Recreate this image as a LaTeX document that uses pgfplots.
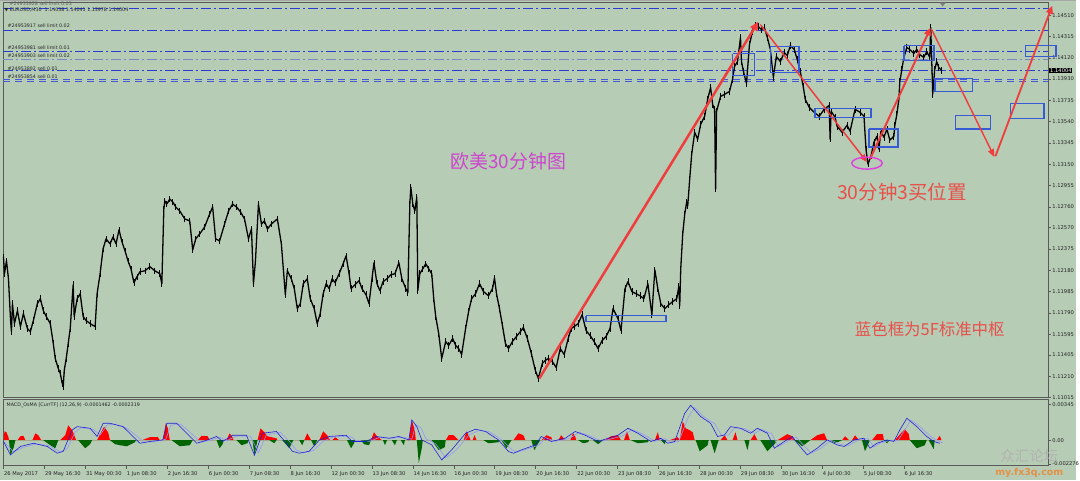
\documentclass[border=0pt]{standalone}
\usepackage{pgfplots}
\pgfplotsset{compat=1.18}
\usepackage{fontspec}
\setmainfont{DejaVu Sans}
\newfontfamily\cjk{Noto Sans CJK SC}
\usetikzlibrary{arrows.meta}
\definecolor{bg}{RGB}{182,204,181}
\definecolor{framec}{RGB}{90,90,90}
\definecolor{ordblue}{RGB}{40,60,210}
\definecolor{ordgray}{RGB}{125,135,195}
\definecolor{ordblue2}{RGB}{70,90,215}
\definecolor{boxblue}{RGB}{55,90,215}
\definecolor{arrred}{RGB}{240,60,60}
\definecolor{txtred}{RGB}{232,80,75}
\definecolor{txtmag}{RGB}{205,70,205}
\definecolor{elmag}{RGB}{225,60,225}
\definecolor{histred}{RGB}{255,0,0}
\definecolor{histgreen}{RGB}{0,100,0}
\definecolor{macdblue}{RGB}{30,30,220}
\definecolor{sigblue}{RGB}{150,150,250}
\definecolor{lbl}{RGB}{35,35,35}
\newcommand{\tickfont}{\fontsize{5.2}{6}\selectfont}
\newcommand{\ordfont}{\fontsize{4.8}{5.5}\selectfont}

\pgfplotstableread{
x y
3 1.12303
4 1.12148
6 1.12266
8 1.12102
10 1.11738
11 1.11619
12 1.11874
14 1.11692
17 1.11811
20 1.11665
23 1.11783
27 1.11647
30 1.11619
33 1.11720
37 1.11874
40 1.11920
43 1.11811
46 1.11756
50 1.11692
53 1.11510
55 1.11373
58 1.11282
60 1.11237
62 1.11146
63 1.11118
64 1.11264
66 1.11373
68 1.11510
70 1.11647
72 1.11920
73 1.12048
74 1.11756
77 1.11920
80 1.11966
83 1.11756
86 1.11720
90 1.11692
95 1.11665
97 1.11966
100 1.12148
103 1.12376
106 1.12467
110 1.12421
113 1.12485
116 1.12421
119 1.12549
122 1.12439
125 1.12357
128 1.12266
131 1.12193
134 1.12066
137 1.12120
140 1.12166
145 1.12175
150 1.12212
155 1.12175
160 1.12148
162 1.12057
164 1.12740
165 1.12813
167 1.12785
170 1.12831
173 1.12804
176 1.12758
180 1.12722
185 1.12649
190 1.12631
193 1.12366
196 1.12467
200 1.12512
205 1.12576
210 1.12694
213 1.12758
216 1.12467
220 1.12448
225 1.12603
229 1.12722
233 1.12785
237 1.12758
241 1.12713
245 1.12649
249 1.12467
252 1.12558
254 1.12057
256 1.12266
259 1.12785
262 1.12603
265 1.12631
268 1.12558
272 1.12603
278 1.12649
282 1.12421
286 1.11956
288 1.12175
292 1.12102
295 1.12011
298 1.11829
301 1.11874
304 1.12057
308 1.12102
311 1.11920
315 1.11829
318 1.11692
321 1.11783
324 1.11966
327 1.12057
330 1.12011
333 1.12102
336 1.12066
340 1.12148
344 1.12239
347 1.12312
350 1.12148
352 1.12011
356 1.12048
360 1.12084
363 1.12011
367 1.11956
370 1.11874
373 1.12102
375 1.12248
378 1.12057
381 1.11993
384 1.12075
388 1.12102
392 1.12139
396 1.12148
400 1.12248
403 1.12102
407 1.12011
409 1.11975
411 1.12785
412 1.12940
414 1.12785
416 1.12722
418 1.12849
419 1.11993
421 1.12148
424 1.12193
427 1.12239
430 1.12193
433 1.12148
435 1.11920
437 1.11756
440 1.11601
443 1.11373
447 1.11528
450 1.11492
454 1.11556
457 1.11492
460 1.11464
463 1.11410
467 1.11647
470 1.11802
473 1.11920
477 1.11966
481 1.12057
485 1.11984
490 1.11947
494 1.12011
496 1.12111
498 1.11966
501 1.11829
504 1.11674
507 1.11510
510 1.11464
514 1.11528
518 1.11574
522 1.11619
525 1.11656
529 1.11556
533 1.11419
537 1.11264
540 1.11191
544 1.11328
547 1.11355
550 1.11373
554 1.11346
558 1.11291
562 1.11464
566 1.11410
570 1.11556
573 1.11647
576 1.11665
580 1.11692
584 1.11774
588 1.11628
592 1.11583
596 1.11528
600 1.11464
604 1.11537
608 1.11574
612 1.11647
615 1.11829
620 1.11738
623 1.11628
627 1.12011
630 1.12075
634 1.11984
638 1.11966
642 1.11947
646 1.11920
650 1.12057
654 1.11774
657 1.12184
660 1.12011
663 1.11874
667 1.11829
671 1.11865
675 1.11893
679 1.11920
681 1.12029
682 1.11856
683 1.12193
685 1.12512
687 1.12694
689 1.12804
690 1.12767
692 1.13013
694 1.13241
697 1.13441
700 1.13378
703 1.13514
707 1.13587
710 1.13742
713 1.13851
715 1.13696
717 1.13651
718 1.12922
719 1.13633
723 1.13769
727 1.13788
732 1.13815
735 1.13924
737 1.14043
740 1.14088
743 1.14307
744 1.14088
746 1.13997
749 1.13888
752 1.14243
755 1.14362
758 1.14416
761 1.14407
764 1.14380
767 1.14398
770 1.14307
773 1.14198
776 1.13942
779 1.14134
783 1.14088
787 1.14170
790 1.14143
793 1.14234
797 1.14198
800 1.14106
803 1.13997
806 1.13860
808 1.13742
812 1.13669
817 1.13624
822 1.13587
827 1.13651
832 1.13687
833 1.13378
834 1.13633
838 1.13578
840 1.13496
845 1.13441
850 1.13505
853 1.13450
858 1.13651
863 1.13624
867 1.13587
869 1.13287
871 1.13150
874 1.13223
877 1.13350
880 1.13405
882 1.13287
884 1.13450
887 1.13396
890 1.13469
893 1.13369
897 1.13405
898 1.13505
900 1.13605
902 1.13742
903 1.13906
905 1.14015
907 1.14125
910 1.14216
913 1.14198
917 1.14161
920 1.14198
923 1.14152
927 1.14125
930 1.14179
933 1.14125
934 1.14398
935 1.14106
936 1.13788
938 1.14015
940 1.14088
942 1.14034
945 1.14006
}\price

\begin{document}
\begin{tikzpicture}[x=1pt,y=1pt]
\fill[bg] (0,0) rectangle (1080,482);
\draw[gray!70, line width=1pt] (0,481.5) -- (1080,481.5);
% ---------------- main price panel ----------------
\begin{axis}[
  at={(3pt,82.7pt)}, anchor=south west,
  width=1049pt, height=396.6pt, scale only axis,
  xmin=3, xmax=1052, ymin=1.11015, ymax=1.14626,
  axis line style={framec, line width=0.8pt},
  clip=false,
  xtick=\empty,
  ytick={1.14510,1.14315,1.14120,1.13930,1.13735,1.13540,1.13345,1.13150,1.12955,1.12760,1.12570,1.12375,1.12180,1.11985,1.11790,1.11595,1.11405,1.11210,1.11015},
  yticklabels={1.14510,1.14315,1.14120,1.13930,1.13735,1.13540,1.13345,1.13150,1.12955,1.12760,1.12570,1.12375,1.12180,1.11985,1.11790,1.11595,1.11405,1.11210,1.11015},
  ytick pos=right, yticklabel pos=right,
  tick align=outside, major tick length=3pt,
  tick style={framec, line width=0.5pt},
  yticklabel style={font=\tickfont, text=lbl, inner sep=1pt},
]
% order lines
\addplot[ordblue, line width=0.8pt, dash pattern=on 10pt off 3pt on 2pt off 3pt] coordinates {(3,1.14571) (1052,1.14571)};
\addplot[ordblue, line width=0.8pt, dash pattern=on 10pt off 3pt on 2pt off 3pt] coordinates {(3,1.14373) (1052,1.14373)};
\addplot[ordblue, line width=0.8pt, dash pattern=on 10pt off 3pt on 2pt off 3pt] coordinates {(3,1.14177) (1052,1.14177)};
\addplot[ordgray, line width=0.9pt, dash pattern=on 10pt off 3pt on 2pt off 3pt] coordinates {(3,1.14107) (1052,1.14107)};
\addplot[ordblue, line width=0.8pt, dash pattern=on 10pt off 3pt on 2pt off 3pt] coordinates {(3,1.14004) (1052,1.14004)};
\addplot[ordblue2, line width=0.8pt, dash pattern=on 7pt off 5pt] coordinates {(3,1.13924) (1052,1.13924)};
\addplot[ordblue2, line width=0.8pt, dash pattern=on 7pt off 5pt] coordinates {(3,1.13906) (1052,1.13906)};
% price (close path with high-low range bars)
\addplot[black, line width=1.3pt, line join=round,
  error bars/.cd, y dir=both, y fixed=0.00030, error mark=none,
  error bar style={black, line width=0.8pt}] table[x=x,y=y] {\price};
% blue boxes (5F centers)
\addplot[boxblue, line width=1.6pt] coordinates {(588,1.11765)(668,1.11765)(668,1.11710)(588,1.11710)(588,1.11765)};
\addplot[boxblue, line width=1.6pt] coordinates {(735,1.14161)(757,1.14161)(757,1.13961)(735,1.13961)(735,1.14161)};
\addplot[boxblue, line width=1.6pt] coordinates {(773,1.14225)(802,1.14225)(802,1.13988)(773,1.13988)(773,1.14225)};
\addplot[boxblue, line width=1.6pt] coordinates {(818,1.13660)(874,1.13660)(874,1.13578)(818,1.13578)(818,1.13660)};
\addplot[boxblue, line width=1.6pt] coordinates {(872,1.13469)(901,1.13469)(901,1.13305)(872,1.13305)(872,1.13469)};
\addplot[boxblue, line width=1.6pt] coordinates {(907,1.14234)(937,1.14234)(937,1.14097)(907,1.14097)(907,1.14234)};
\addplot[boxblue, line width=1.6pt] coordinates {(938,1.13933)(976,1.13933)(976,1.13815)(938,1.13815)(938,1.13933)};
\addplot[boxblue, line width=1.6pt] coordinates {(959,1.13596)(994,1.13596)(994,1.13469)(959,1.13469)(959,1.13596)};
\addplot[boxblue, line width=1.6pt] coordinates {(1014,1.13706)(1048,1.13706)(1048,1.13569)(1014,1.13569)(1014,1.13706)};
\addplot[boxblue, line width=1.6pt] coordinates {(1029,1.14234)(1060,1.14234)(1060,1.14134)(1029,1.14134)(1029,1.14234)};
% red trend arrows
\addplot[arrred, line width=2.5pt, -{Triangle[length=9pt,width=8pt]}] coordinates {(541,1.11191)(761,1.14453)};
\addplot[arrred, line width=1.5pt, -{Triangle[length=8pt,width=6pt]}] coordinates {(763,1.14425)(870,1.13168)};
\addplot[arrred, line width=2pt, -{Triangle[length=8pt,width=7pt]}] coordinates {(873,1.13195)(934,1.14398)};
\addplot[arrred, line width=1.4pt, -{Triangle[length=8pt,width=6pt]}] coordinates {(935,1.14380)(998,1.13214)};
\addplot[arrred, line width=1.8pt, -{Triangle[length=8pt,width=7pt]}] coordinates {(999,1.13223)(1056,1.14598)};
% ellipse
\draw[elmag, line width=1.4pt] (axis cs:870,1.13159) ellipse [x radius=15.3pt, y radius=6pt];
% texts
\node[font=\cjk\fontsize{19}{20}\selectfont, text=txtmag] at (axis cs:510,1.13177) {欧美30分钟图};
\node[font=\cjk\fontsize{19.5}{20}\selectfont, text=txtred] at (axis cs:905,1.12890) {30分钟3买位置};
\node[font=\cjk\fontsize{16.5}{18}\selectfont, text=txtred] at (axis cs:933,1.11642) {蓝色框为5F标准中枢};
% order labels
\node[font=\ordfont, text=lbl!75, anchor=west, inner sep=0pt] at (axis cs:9,1.14617) {\#24953928 sell limit 0.03};
\node[font=\ordfont, text=lbl, anchor=west, inner sep=0pt] at (axis cs:4,1.14558) {▼ EURUSD,M30\ \ 1.14038 1.14041 1.13978 1.14004};
\node[font=\ordfont, text=lbl, anchor=west, inner sep=0pt] at (axis cs:7,1.14416) {\#24953917 sell limit 0.02};
\node[font=\ordfont, text=lbl, anchor=west, inner sep=0pt] at (axis cs:7,1.14216) {\#24953981 sell limit 0.01};
\node[font=\ordfont, text=lbl, anchor=west, inner sep=0pt] at (axis cs:7,1.14143) {\#24953903 sell limit 0.02};
\node[font=\ordfont, text=lbl, anchor=west, inner sep=0pt] at (axis cs:7,1.14024) {\#24953892 sell 0.01};
\node[font=\ordfont, text=lbl, anchor=west, inner sep=0pt] at (axis cs:7,1.13951) {\#24953854 sell 0.01};
% current price tag
\node[fill=black, text=white, font=\tickfont, anchor=west, inner sep=0.8pt] at (axis cs:1053,1.14004) {1.14004};
% shift marker
\fill[gray] (axis cs:943,1.14626) -- (axis cs:949,1.14626) -- (axis cs:946,1.14590) -- cycle;
\end{axis}
% ---------------- MACD panel ----------------
\begin{axis}[
  at={(3pt,14.5pt)}, anchor=south west,
  width=1049pt, height=66.5pt, scale only axis,
  xmin=3, xmax=1052, ymin=-24.4, ymax=39.3,
  axis line style={framec, line width=0.8pt},
  clip=false,
  xtick={3,44.1,85.2,126.3,167.4,208.5,249.6,290.7,331.8,372.9,414,455.1,496.2,537.3,578.4,619.5,660.6,701.7,742.8,783.9,825,866.1,907.2},
  xticklabels={26 May 2017,29 May 16:30,31 May 00:30,1 Jun 08:30,2 Jun 16:30,6 Jun 00:30,7 Jun 08:30,8 Jun 16:30,12 Jun 00:30,13 Jun 08:30,14 Jun 16:30,16 Jun 00:30,19 Jun 08:30,20 Jun 16:30,22 Jun 00:30,23 Jun 08:30,26 Jun 16:30,28 Jun 00:30,29 Jun 08:30,30 Jun 16:30,4 Jul 00:30,5 Jul 08:30,6 Jul 16:30},
  xtick pos=bottom,
  xticklabel style={font=\tickfont, text=lbl, anchor=north west, inner sep=0pt, xshift=0.5pt, yshift=-2.5pt},
  ytick={34.5,0,-22.76},
  yticklabels={0.00345,0.00,-0.002276},
  ytick pos=right, yticklabel pos=right,
  yticklabel style={font=\tickfont, text=lbl, inner sep=1pt},
  tick align=outside, major tick length=3pt,
  tick style={framec, line width=0.5pt},
]
\addplot[fill=histred, draw=none] coordinates {
(3,0)(4,8.6)(6,7.7)(8,2.9)(8.5,0)
(17,0)(20,3.8)(23,4.3)(25,0)
(32,0)(35,6.7)(38,4.8)(41,0)
(60,0)(65,4.8)(68,14.4)(72,9.6)(76,0)
(97,0)(101,7.7)(104,13)(108,7.7)(110,0)
(142,0)(150,2.9)(158,2.9)(160,0)
(163,0)(166,16.3)(168,11.5)(170,0)
(198,0)(202,4.3)(208,3.8)(210,0)
(227,0)(230,6.7)(233,2.9)(234,0)
(258,0)(261,11.5)(265,7.7)(268,3.8)(277,1.9)(278,0)
(305,0)(308,6.7)(312,0)
(320,0)(324,8.6)(328,4.8)(331,0)
(333,0)(336,2.9)(340,0)
(372,0)(375,7.7)(378,3.8)(383,0)
(410,0)(413,19.2)(416,9.6)(417,0)
(447,0)(450,4.8)(455,4.8)(460,0)
(465,0)(468,8.6)(470,4.8)(472,0)
(474,0)(476,4.8)(478,0)
(515,0)(520,6.7)(525,4.8)(527,0)
(543,0)(548,4.8)(553,2.9)(554,0)
(560,0)(563,4.8)(567,0)
(572,0)(575,6.7)(577,3.8)(578,0)
(607,0)(613,3.8)(620,4.8)(623,0)
(626,0)(629,8.6)(632,0)
(657,0)(660,7.7)(662,0)
(672,0)(680,2.9)(682,0)
(685,18.2)(688,11.5)(692,9.6)(695,7.7)(697,0)
(723,0)(727,4.8)(730,0)
(735,0)(738,7.7)(740,0)
(753,0)(757,5.8)(760,0)
(780,0)(790,5.8)(795,3.8)(798,0)
(813,0)(820,4.8)(827,6.7)(830,0)
(845,0)(848,3.8)(852,0)
(855,0)(858,4.8)(862,0)
(875,0)(880,5.8)(886,5.8)(887,0)
(898,0)(905,7.7)(908,10.6)(912,5.8)(913,0)
(940,0)(943,4.3)(945,0)};
\addplot[fill=histgreen, draw=none] coordinates {
(8.5,0)(10,-14.4)(13,-7.7)(15,0)
(43,0)(50,-4.8)(55,-7.7)(58,0)
(78,0)(85,-7.7)(90,-3.8)(92,0)
(110,0)(115,-3.8)(120,-4.8)(127,-5.8)(135,-1.9)(136,0)
(172,0)(180,-5.8)(190,-4.8)(193,0)
(217,0)(220,-7.7)(223,-3.8)(224,0)
(237,0)(242,-4.8)(248,-2.9)(249,0)
(253,0)(255,-14.4)(258,0)
(270,0)(275,-2.9)(277,0)
(283,0)(290,-7.7)(293,-1.9)(294,0)
(300,0)(303,-4.8)(305,0)
(312,0)(315,-5.8)(318,0)
(348,0)(352,-7.7)(355,-2.9)(356,0)
(362,0)(365,-3.8)(370,-4.8)(372,0)
(384,0)(386,-4.8)(388,0)
(393,0)(396,-4.8)(398,0)
(402,0)(405,-4.8)(406,0)
(418,0)(420,-22.1)(423,-7.7)(424,0)
(433,0)(440,-9.6)(446,-6.7)(447,0)
(485,0)(490,-2.9)(500,-1.9)(501,0)
(503,0)(508,-7.7)(513,0)
(533,0)(536,-9.6)(540,-2.9)(542,0)
(580,0)(585,-2.9)(590,-1.9)(591,0)
(595,0)(600,-3.8)(605,0)
(633,0)(640,-2.9)(650,-1.9)(651,0)
(663,0)(667,-3.8)(668,0)
(698,0)(702,-10.6)(710,-4.8)(711,0)
(713,0)(717,-12.5)(721,0)
(747,0)(750,-9.6)(752,0)
(763,0)(770,-10.6)(778,-2.9)(779,0)
(797,0)(805,-5.8)(813,0)
(833,0)(838,-2.9)(845,0)
(865,0)(868,-10.6)(873,0)
(887,0)(890,-2.9)(893,0)
(913,0)(920,-7.7)(928,-4.8)(930,0)
(932,0)(937,-8.6)(938,0)};
\addplot[sigblue, line width=0.6pt] coordinates {
(3,-1)(13,-11)(23,-7)(36,-3.5)(50,-5.5)(60,-11.5)(67,-8)(75,8)(81,12)(93,10.5)(100,5)(107,14.5)(114,15.5)(126,12)(137,4)(144,-2)(154,-1.5)(166,1)(171,14.5)(181,15.5)(191,7)(201,-2)(211,0)(220,3)(227,-0.5)(237,4)(251,4)(259,-12)(267,5)(281,7.5)(291,-2)(297,-9.5)(304,-12)(314,-10)(324,-1)(334,3)(351,4)(357,-0.5)(371,-1)(381,3)(394,1.9)(404,3)(413,1)(417,15)(422,12)(427,1.5)(437,-3.5)(447,-17)(457,-10)(471,5.5)(481,9.5)(491,8)(504,0)(514,-9.5)(519,-11.5)(527,-9)(541,-4.5)(547,2.5)(557,-1)(571,1.5)(581,7.5)(591,4.5)(604,-1)(614,1.5)(624,4)(634,10)(644,6.5)(657,-1)(667,1.5)(674,-2.5)(681,-1)(691,23)(697,31.5)(707,22)(717,16)(724,4.5)(731,5)(737,12)(747,11)(757,6.5)(764,10.5)(774,6.5)(781,-6)(791,-1)(799,3)(804,-2.5)(814,-12.5)(824,-7.5)(834,0)(844,-4)(851,-5.5)(861,0)(871,1.5)(877,-6.5)(884,-2.5)(894,0)(901,-0.5)(907,8.5)(914,19.5)(924,12.5)(934,3.5)(941,-0.5)(946,-2.5)};
\addplot[macdblue, line width=0.6pt] coordinates {
(3,-1.0)(10,-14.1)(20,-6.0)(33,-2.9)(47,-6.0)(57,-12.5)(63,-10.6)(72,9.9)(77,13.1)(90,11.5)(97,3.6)(103,16.3)(110,16.3)(123,13.1)(133,3.6)(140,-2.9)(150,-1.2)(163,0.3)(167,16.3)(177,16.3)(187,6.7)(197,-2.9)(207,0)(217,3.6)(223,-1.2)(233,4.8)(247,4.8)(255,-14.4)(263,6.7)(277,8.4)(287,-2.9)(293,-10.6)(300,-12.5)(310,-10.6)(320,0)(330,3.6)(347,4.8)(353,-1.2)(367,-1.2)(377,3.6)(390,1.9)(400,3.6)(410,0.3)(413,19.5)(418,13.1)(423,0.3)(433,-4.5)(443,-18.9)(453,-9.3)(467,6.7)(477,10.6)(487,8.4)(500,0.3)(510,-10.8)(515,-12.5)(523,-9.3)(537,-4.5)(543,3.6)(553,-1.2)(567,1.9)(577,8.4)(587,4.8)(600,-1.2)(610,1.9)(620,4.8)(630,11.5)(640,6.7)(653,-1.2)(663,1.9)(670,-2.9)(677,-1.2)(687,25.9)(693,33.6)(703,22.8)(713,16.3)(720,3.6)(727,5.1)(733,13.1)(743,11.5)(753,6.7)(760,11.5)(770,6.7)(777,-7.7)(787,-1.2)(795,3.6)(800,-2.9)(810,-14.1)(820,-7.7)(830,0.3)(840,-4.5)(847,-6.0)(857,0.3)(867,1.9)(873,-7.7)(880,-2.9)(890,0.3)(897,-1.2)(903,9.9)(910,21.1)(920,13.1)(930,3.6)(937,-1.2)(943,-2.9)};
\node[font=\ordfont, text=lbl, anchor=west, inner sep=0pt] at (axis cs:6,33.5) {MACD\_OsMA [CurrTF] (12,26,9) -0.0001462 -0.0002319};
\end{axis}
% watermark
\node[font=\cjk\fontsize{14.5}{15}\selectfont, text=gray!60] at (1033,24.5) {众汇论坛};
\node[font=\bfseries\fontsize{9.5}{10}\selectfont, text={rgb,255:red,228;green,145;blue,70}] at (1033,7.5) {my.fx3q.com};
\end{tikzpicture}
\end{document}
